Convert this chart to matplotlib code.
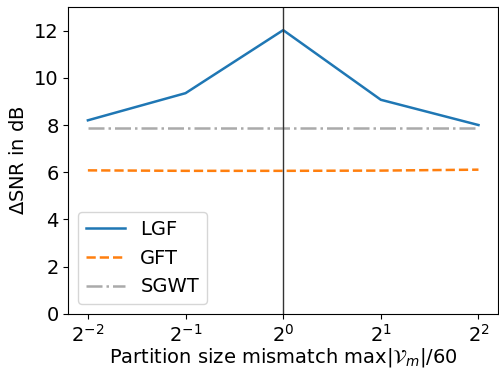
import matplotlib
matplotlib.use('Agg')
import matplotlib.pyplot as plt

# data
x = [0.25, 0.5, 1, 2, 4]
lgf = [8.2, 9.35, 12.02, 9.07, 8.0]
gft = [6.08, 6.06, 6.06, 6.07, 6.11]
sgwt = [7.86, 7.86, 7.86, 7.86, 7.86]

plt.rcParams['font.size'] = 14

fig, ax = plt.subplots(figsize=(4.99, 3.68), dpi=100)
ax.plot(x, lgf, '-', color='#1f77b4', lw=1.8, label='LGF')
ax.plot(x, gft, '--', color='#ff7f0e', lw=1.8, label='GFT')
ax.plot(x, sgwt, '-.', color='#aaaaaa', lw=1.8, label='SGWT')
ax.axvline(1, color='#333333', lw=1)
ax.set_xscale('log', base=2)
ax.set_xticks(x)
ax.set_ylim(0, 13)
ax.set_ylabel(r'$\Delta$SNR in dB')
ax.set_xlabel(r'Partition size mismatch max$|\mathcal{V}_m|$/60', labelpad=0)
ax.legend(loc='lower left')
fig.subplots_adjust(left=0.137, right=0.998, top=0.981, bottom=0.147)
fig.savefig('out.png')
